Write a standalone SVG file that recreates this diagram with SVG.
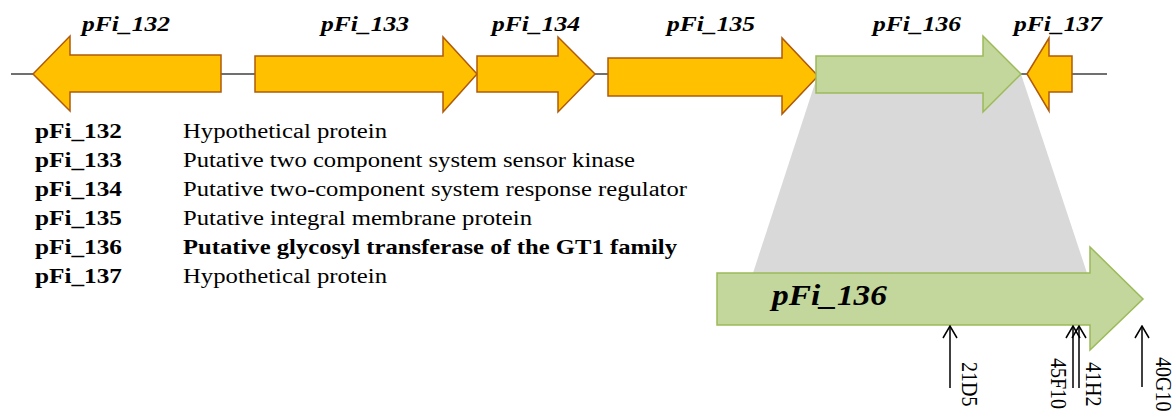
<svg xmlns="http://www.w3.org/2000/svg" width="1174" height="415" viewBox="0 0 1174 415">
  <style>
    .gene { fill: #FFC000; stroke: #B05A0A; stroke-width: 1.5; stroke-linejoin: miter; }
    .target { fill: #C3D69B; stroke: #9BBB59; stroke-width: 1.5; }
    .glabel { font-family: "Liberation Serif", "Times New Roman", serif; font-weight: bold; font-style: italic; font-size: 21px; fill: #000; }
    .lid { font-family: "Liberation Serif", "Times New Roman", serif; font-weight: bold; font-size: 20px; fill: #000; }
    .ldesc { font-family: "Liberation Serif", "Times New Roman", serif; font-size: 20px; fill: #000; }
    .ins { stroke: #000; stroke-width: 1.5; fill: none; }
    .inslabel { font-family: "Liberation Serif", "Times New Roman", serif; font-size: 20px; fill: #000; }
  </style>
  <defs>
    <!-- open chevron head pointing along the line direction -->
    <marker id="open" viewBox="0 0 14 16" refX="13" refY="8" markerWidth="14" markerHeight="16" markerUnits="userSpaceOnUse" orient="auto">
      <path d="M1,1 L13,8 L1,15" fill="none" stroke="#000" stroke-width="1.5"/>
    </marker>
  </defs>

  <!-- zoom-in band from the small gene to the enlarged one -->
  <polygon points="818,74 1021,74 1087,273 753,273" fill="#D9D9D9"/>

  <!-- backbone -->
  <g id="connectors">
    <line x1="11" y1="74" x2="1107" y2="74" stroke="#404040" stroke-width="1.5"/>
  </g>

  <g id="pFi_132">
    <polygon class="gene" points="33,74 70,36 70,55 221,55 221,92 70,92 70,111"/>
    <text class="glabel" x="82" y="31" textLength="88" lengthAdjust="spacingAndGlyphs">pFi_132</text>
  </g>
  <g id="pFi_133">
    <polygon class="gene" points="255,56 443,56 443,37 477,74 443,112 443,92 255,92"/>
    <text class="glabel" x="321" y="31" textLength="88" lengthAdjust="spacingAndGlyphs">pFi_133</text>
  </g>
  <g id="pFi_134">
    <polygon class="gene" points="477,56 558,56 558,37 595,74 558,112 558,92 477,92"/>
    <text class="glabel" x="492" y="31" textLength="88" lengthAdjust="spacingAndGlyphs">pFi_134</text>
  </g>
  <g id="pFi_135">
    <polygon class="gene" points="608,58 782,58 782,38 818,76 782,114 782,96 608,96"/>
    <text class="glabel" x="667" y="31" textLength="88" lengthAdjust="spacingAndGlyphs">pFi_135</text>
  </g>
  <g id="pFi_136">
    <polygon class="target" points="816,56 983,56 983,36 1021,74 983,112 983,93 816,93"/>
    <text class="glabel" x="873" y="31" textLength="88" lengthAdjust="spacingAndGlyphs">pFi_136</text>
  </g>
  <g id="pFi_137">
    <polygon class="gene" points="1027,74 1049,38 1049,56 1072,56 1072,92 1049,92 1049,111"/>
    <text class="glabel" x="1014" y="31" textLength="88" lengthAdjust="spacingAndGlyphs">pFi_137</text>
  </g>

  <!-- legend -->
  <g id="legend">
    <text class="lid" x="35" y="138" textLength="87" lengthAdjust="spacingAndGlyphs">pFi_132</text>
    <text class="ldesc" x="183" y="138" textLength="204" lengthAdjust="spacingAndGlyphs">Hypothetical protein</text>
    <text class="lid" x="35" y="167" textLength="87" lengthAdjust="spacingAndGlyphs">pFi_133</text>
    <text class="ldesc" x="183" y="167" textLength="452" lengthAdjust="spacingAndGlyphs">Putative two component system sensor kinase</text>
    <text class="lid" x="35" y="196" textLength="87" lengthAdjust="spacingAndGlyphs">pFi_134</text>
    <text class="ldesc" x="183" y="196" textLength="504" lengthAdjust="spacingAndGlyphs">Putative two-component system response regulator</text>
    <text class="lid" x="35" y="225" textLength="87" lengthAdjust="spacingAndGlyphs">pFi_135</text>
    <text class="ldesc" x="183" y="225" textLength="349" lengthAdjust="spacingAndGlyphs">Putative integral membrane protein</text>
    <text class="lid" x="35" y="254" textLength="87" lengthAdjust="spacingAndGlyphs">pFi_136</text>
    <text class="lid" x="183" y="254" textLength="494" lengthAdjust="spacingAndGlyphs">Putative glycosyl transferase of the GT1 family</text>
    <text class="lid" x="35" y="283" textLength="87" lengthAdjust="spacingAndGlyphs">pFi_137</text>
    <text class="ldesc" x="183" y="283" textLength="204" lengthAdjust="spacingAndGlyphs">Hypothetical protein</text>
  </g>

  <!-- enlarged pFi_136 -->
  <g id="pFi_136_detail">
    <polygon class="target" points="717,273 1090,273 1090,247 1143,299 1090,350 1090,325 717,325"/>
    <text class="glabel" style="font-size:30px" x="772" y="305" textLength="115" lengthAdjust="spacingAndGlyphs">pFi_136</text>
  </g>

  <!-- insertion sites -->
  <g id="insertions">
    <g id="ins_21D5">
      <line class="ins" x1="950" y1="388" x2="950" y2="326" marker-end="url(#open)"/>
      <text class="inslabel" transform="translate(962,362) scale(1.15,1) rotate(90)">21D5</text>
    </g>
    <g id="ins_45F10">
      <line class="ins" x1="1073" y1="388" x2="1073" y2="326" marker-end="url(#open)"/>
      <text class="inslabel" transform="translate(1051,358) scale(1.15,1) rotate(90)">45F10</text>
    </g>
    <g id="ins_41H2">
      <line class="ins" x1="1079" y1="388" x2="1079" y2="326" marker-end="url(#open)"/>
      <text class="inslabel" transform="translate(1086,362) scale(1.15,1) rotate(90)">41H2</text>
    </g>
    <g id="ins_40G10">
      <line class="ins" x1="1142" y1="387" x2="1142" y2="326" marker-end="url(#open)"/>
      <text class="inslabel" transform="translate(1156,357) scale(1.15,1) rotate(90)">40G10</text>
    </g>
  </g>
</svg>
